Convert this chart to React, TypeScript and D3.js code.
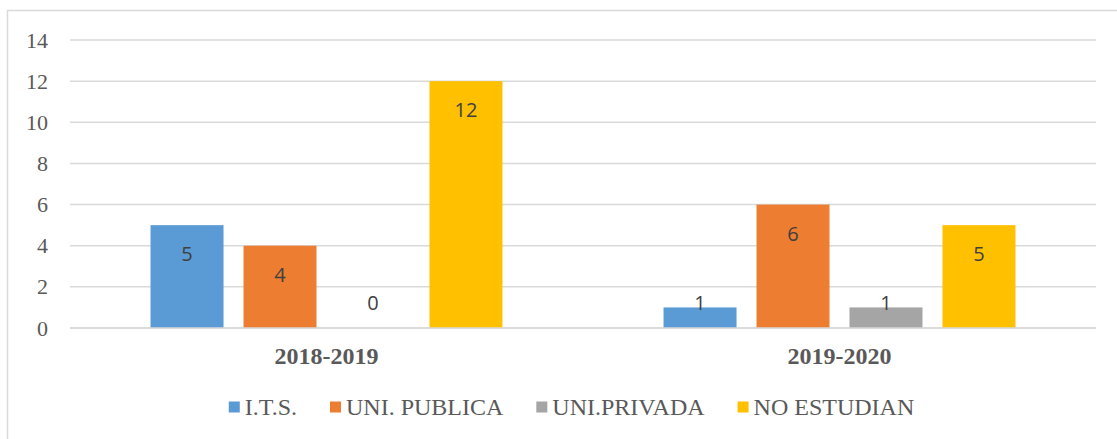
import { useLayoutEffect, useRef, useState } from 'react'
import * as d3 from 'd3'

const WIDTH = 1117
const HEIGHT = 439

const CATEGORIES = ['2018-2019', '2019-2020']
const SERIES = ['I.T.S.', 'UNI. PUBLICA', 'UNI.PRIVADA', 'NO ESTUDIAN']
const COLORS = ['#5b9bd5', '#ed7d31', '#a5a5a5', '#ffc000']
// values per series, one entry per category
const ITS = [5, 1]
const UNI_PUBLICA = [4, 6]
const UNI_PRIVADA = [0, 1]
const NO_ESTUDIAN = [12, 5]
const Y_TICKS = [0, 2, 4, 6, 8, 10, 12, 14]

const VALUES = [ITS, UNI_PUBLICA, UNI_PRIVADA, NO_ESTUDIAN]

const PLOT = { left: 70, right: 1096, top: 40, bottom: 328 }
const SERIF = "'Liberation Serif'"
const SANS = "'Open Sans'"

export default function App() {
  const legendRef = useRef<SVGGElement>(null)
  const [legendX, setLegendX] = useState<number[]>([])

  const x0 = d3.scaleBand<string>()
    .domain(CATEGORIES)
    .range([PLOT.left, PLOT.right])
    .paddingInner(0.275)
    .paddingOuter(0.1375)
  const x1 = d3.scaleBand<string>()
    .domain(SERIES)
    .range([0, x0.bandwidth()])
    .paddingInner(0.215)
    .paddingOuter(0.1075)
  const y = d3.scaleLinear().domain([0, 14]).range([PLOT.bottom, PLOT.top])

  // lay out legend from the measured text widths, centred
  useLayoutEffect(() => {
    if (!legendRef.current) return
    const texts = Array.from(legendRef.current.querySelectorAll('text')) as SVGTextElement[]
    const widths = texts.map(t => t.getComputedTextLength())
    const itemW = widths.map(w => 11 + 5 + w)
    const gap = 33
    const total = d3.sum(itemW) + gap * (itemW.length - 1)
    let cur = 571.5 - total / 2
    const xs: number[] = []
    itemW.forEach(w => { xs.push(cur); cur += w + gap })
    setLegendX(xs)
  }, [])

  const y0 = y(0)

  return (
    <svg width={WIDTH} height={HEIGHT} style={{ position: 'absolute', left: 0, top: 0 }}>
      <rect x={7.5} y={10.5} width={WIDTH + 10} height={HEIGHT + 10} fill="#fff" stroke="#d9d9d9" strokeWidth={1.5} />

      {/* gridlines + y labels */}
      {Y_TICKS.map(t => (
        <g key={t}>
          <line x1={PLOT.left} x2={PLOT.right} y1={y(t)} y2={y(t)} stroke="#d9d9d9" strokeWidth={1.5} />
          <text x={48} y={y(t)} textAnchor="end" dominantBaseline="central"
            style={{ fontFamily: SERIF }} fontSize={22} fill="#595959">{t}</text>
        </g>
      ))}

      {/* bars */}
      {CATEGORIES.map((cat, ci) => (
        <g key={cat} transform={`translate(${x0(cat)},0)`}>
          {SERIES.map((s, si) => {
            const v = VALUES[si][ci]
            const bx = x1(s)!
            const top = y(v)
            const ly = Math.min(top + 28.5, y0 - 25.5)
            return (
              <g key={s}>
                {v > 0 && (
                  <rect x={bx} y={top} width={x1.bandwidth()} height={y0 - top} fill={COLORS[si]} />
                )}
                <text x={bx + x1.bandwidth() / 2} y={ly} textAnchor="middle" dominantBaseline="central"
                  style={{ fontFamily: SANS }} fontSize={20} fill="#404040">{v}</text>
              </g>
            )
          })}
          <text x={x0.bandwidth() / 2} y={356} textAnchor="middle" dominantBaseline="central"
            style={{ fontFamily: SERIF }} fontSize={24} fontWeight="bold" fill="#595959">{cat}</text>
        </g>
      ))}
      <line x1={PLOT.left} x2={PLOT.right} y1={y0} y2={y0} stroke="#d9d9d9" strokeWidth={1.5} />

      {/* legend */}
      <g ref={legendRef}>
        {SERIES.map((s, i) => {
          const lx = legendX[i] ?? 0
          return (
            <g key={s} transform={`translate(${lx},0)`}>
              <rect x={0} y={401.5} width={11} height={11} fill={COLORS[i]} />
              <text x={16} y={407} dominantBaseline="central"
                style={{ fontFamily: SERIF }} fontSize={24} fill="#595959">{s}</text>
            </g>
          )
        })}
      </g>
    </svg>
  )
}
